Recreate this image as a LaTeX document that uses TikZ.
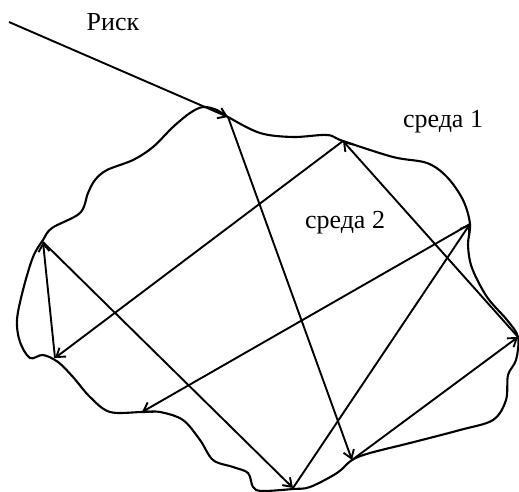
\documentclass[tikz,border=0pt]{standalone}
\usepackage{fontspec}
\setmainfont{Liberation Serif}
\usetikzlibrary{arrows.meta}
\tikzset{
    border/.style={line width=2.1pt, black, smooth cycle, tension=0.55},
    ray/.style={-{Straight Barb[length=8pt, width=11pt]}, line width=1.9pt, black},
    envtext/.style={font=\fontsize{26}{30}\selectfont, anchor=base, inner sep=0pt}
}
\begin{document}
\begin{tikzpicture}[x=1pt, y=-1pt]
        \useasboundingbox (0,0) rectangle (519,492);
        \draw [border] plot coordinates {(228,117) (260,133) (293,137) (327,135) (343,141) (393,157) (427,163) (447,177) (463,200) (470,224) (468,245) (472,268) (487,297) (507,320) (518,337) (516,360) (508,375) (506,400) (493,420) (460,430) (410,443) (370,453) (352,460) (337,473) (310,487) (293,489) (262,491) (253,487) (248,473) (233,467) (213,460) (200,440) (183,420) (160,412) (142,412) (110,412) (90,397) (73,377) (58,362) (43,355) (30,358) (20,342) (17,320) (23,290) (33,257) (43,240) (52,228) (80,213) (88,193) (95,180) (107,170) (133,160) (153,147) (173,127) (190,113) (203,107) (217,110)};
        \coordinate (src) at (9,22);
        \coordinate (p1) at (228,117);
        \coordinate (p2) at (352,460);
        \coordinate (p3) at (518,337);
        \coordinate (p4) at (343,141);
        \coordinate (p5) at (55,358);
        \coordinate (p6) at (43,242);
        \coordinate (p7) at (293,488);
        \coordinate (p8) at (470,224);
        \coordinate (p9) at (142,412);
        \node [envtext] (risk) at (113,31) {Риск};
        \node [envtext] (env1) at (443,128) {среда 1};
        \node [envtext] (env2) at (345,228) {среда 2};
        \draw [ray] (src) -- (p1);
        \draw [ray] (p1) -- (p2);
        \draw [ray] (p2) -- (p3);
        \draw [ray] (p3) -- (p4);
        \draw [ray] (p4) -- (p5);
        \draw [ray] (p5) -- (p6);
        \draw [ray] (p6) -- (p7);
        \draw [ray] (p7) -- (p8);
        \draw [ray] (p8) -- (p9);
    \end{tikzpicture}
\end{document}
